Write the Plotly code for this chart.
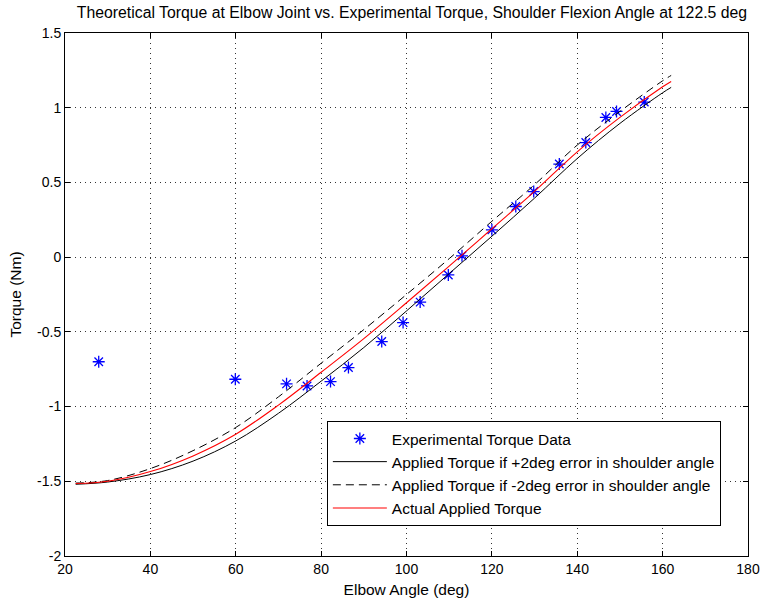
import plotly.graph_objects as go

exp_angle = [27.9, 59.9, 71.9, 76.7, 82.2, 86.4, 94.2, 99.2, 103.2, 109.8,
             113.0, 120.0, 125.6, 129.8, 135.8, 142.0, 146.7, 149.2, 155.7]
exp_torque = [-0.70, -0.817, -0.848, -0.862, -0.833, -0.739, -0.565, -0.438, -0.301, -0.119,
              0.009, 0.183, 0.339, 0.439, 0.623, 0.767, 0.935, 0.975, 1.038]

# Theoretical curves
curve_angle = [22.5, 30, 40, 50, 60, 70, 80, 90, 100, 110, 120, 130, 140, 150, 160, 162]
torque_plus2 = [-1.520, -1.505, -1.455, -1.365, -1.230, -1.045, -0.830, -0.605, -0.360, -0.110,
                0.140, 0.395, 0.660, 0.895, 1.100, 1.136]
torque_minus2 = [-1.512, -1.495, -1.415, -1.295, -1.140, -0.935, -0.710, -0.485, -0.250, -0.010,
                 0.240, 0.485, 0.750, 0.975, 1.180, 1.216]
torque_actual = [-1.515, -1.500, -1.435, -1.330, -1.185, -0.990, -0.770, -0.545, -0.305, -0.060,
                 0.190, 0.440, 0.705, 0.935, 1.140, 1.176]

x_ticks = [20, 40, 60, 80, 100, 120, 140, 160, 180]
x_ticktext = ["20", "40", "60", "80", "100", "120", "140", "160", "180"]
y_ticks = [-2, -1.5, -1, -0.5, 0, 0.5, 1, 1.5]
y_ticktext = ["-2", "-1.5", "-1", "-0.5", "0", "0.5", "1", "1.5"]

FONT = "Liberation Sans, Arial, Helvetica, sans-serif"
TXT = 15.5

fig = go.Figure()
fig.add_trace(go.Scatter(
    x=exp_angle, y=exp_torque, mode="markers", name="Experimental Torque Data",
    marker=dict(symbol="asterisk-open", size=10, color="#0000ff",
                line=dict(color="#0000ff", width=1.3)),
))
fig.add_trace(go.Scatter(
    x=curve_angle, y=torque_plus2, mode="lines",
    name="Applied Torque if +2deg error in shoulder angle",
    line=dict(color="black", width=1, shape="spline"),
))
fig.add_trace(go.Scatter(
    x=curve_angle, y=torque_minus2, mode="lines",
    name="Applied Torque if -2deg error in shoulder angle",
    line=dict(color="black", width=1, dash="8px,5px", shape="spline"),
))
fig.add_trace(go.Scatter(
    x=curve_angle, y=torque_actual, mode="lines", name="Actual Applied Torque",
    line=dict(color="#ff0000", width=1.1, shape="spline"),
))

axis_common = dict(
    showline=True, linecolor="black", linewidth=1, mirror="ticks",
    ticks="inside", ticklen=5, tickcolor="black", tickwidth=1,
    showgrid=True, gridcolor="#333333", gridwidth=1, griddash="1px,4px",
    zeroline=False, automargin=False,
    tickfont=dict(family=FONT, size=14, color="black"),
)

fig.update_layout(
    width=762, height=603,
    paper_bgcolor="white", plot_bgcolor="white",
    margin=dict(l=65, r=14, t=33, b=47),
    font=dict(family=FONT, size=TXT, color="black"),
    title=dict(text="Theoretical Torque at Elbow Joint vs. Experimental Torque, Shoulder Flexion Angle at 122.5 deg",
               x=0.508, xref="paper", xanchor="center", y=1 - 12 / 603, yref="container", yanchor="middle",
               font=dict(family=FONT, size=15.8, color="black")),
    xaxis=dict(range=[20, 180], tickvals=x_ticks, ticktext=x_ticktext,
               title=dict(text="Elbow Angle (deg)", standoff=8,
                          font=dict(family=FONT, size=TXT, color="black")),
               **axis_common),
    yaxis=dict(range=[-2, 1.5], tickvals=y_ticks, ticktext=y_ticktext,
               title=dict(text="Torque (Nm)", standoff=11,
                          font=dict(family=FONT, size=TXT, color="black")),
               **axis_common),
    legend=dict(x=0.3834, y=0.2583, xanchor="left", yanchor="top",
                bgcolor="white", bordercolor="black", borderwidth=1,
                font=dict(family=FONT, size=TXT, color="black"),
                tracegroupgap=0, itemwidth=54),
    showlegend=True,
)

fig.write_html("out.html", config={"displayModeBar": False},
               post_script="document.body.style.margin='0';document.body.style.padding='0';")
